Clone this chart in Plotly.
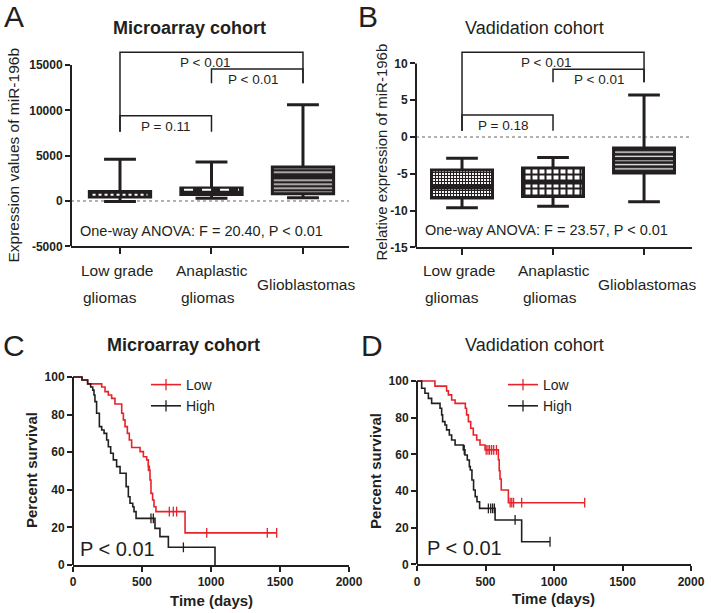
import plotly.graph_objects as go

W, H = 711, 613
FONT = "Liberation Sans, Arial, Helvetica, sans-serif"
DARK = "#231f20"
RED = "#e8222a"

# ------------------------------------------------------------------ data
CATEGORY_LINES = [["Low grade", "gliomas"], ["Anaplastic", "gliomas"], ["Glioblastomas"]]
CAT_POS = [0, 1, 2]

# Panel A (microarray cohort) box statistics
A_LOWER = [-50, 300, 350]
A_Q1 = [450, 700, 800]
A_MEDIAN = [680, 1230, 2700]
A_Q3 = [1050, 1420, 3750]
A_UPPER = [4600, 4300, 10600]
A_YTICKS = [-5000, 0, 5000, 10000, 15000]
A_PAIRS = [(0, 1), (0, 2), (1, 2)]
A_BRACKET_Y = [9400, 16400, 14560]
A_LEG_LEFT = [7640, 7640, 12980]
A_LEG_RIGHT = [7640, 12980, 12980]
A_P_LABELS = ["P = 0.11", "P < 0.01", "P < 0.01"]
A_ANOVA = "One-way ANOVA: F = 20.40, P < 0.01"

# Panel B (validation cohort) box statistics
B_LOWER = [-9.6, -9.4, -8.8]
B_Q1 = [-8.3, -8.1, -4.9]
B_MEDIAN = [-6.8, -6.1, -3.0]
B_Q3 = [-4.5, -4.2, -1.5]
B_UPPER = [-2.9, -2.8, 5.7]
B_YTICKS = [-15, -10, -5, 0, 5, 10]
B_PAIRS = [(0, 1), (0, 2), (1, 2)]
B_BRACKET_Y = [3.0, 11.5, 9.2]
B_LEG_LEFT = [0.86, 0.86, 7.43]
B_LEG_RIGHT = [0.86, 7.43, 7.43]
B_P_LABELS = ["P = 0.18", "P < 0.01", "P < 0.01"]
B_ANOVA = "One-way ANOVA: F = 23.57, P < 0.01"

# Panel C (microarray cohort) Kaplan-Meier
C_LOW_T = [0, 65, 106, 208, 232, 256, 280, 304, 353, 365, 377, 394, 408, 425, 486, 510,
           534, 546, 553, 558, 565, 577, 587, 601, 812, 1476]
C_LOW_S = [100, 98.4, 96.3, 94.7, 92.2, 90.4, 88.6, 85.6, 80.7, 77.2, 73.6, 70, 66.5, 62.5,
           60.3, 57.6, 55.9, 52.5, 50.5, 45.2, 38.1, 34.6, 31, 28.4, 17.1, 17.1]
C_LOW_CENS_T = [546, 698, 727, 751, 969, 1408, 1476]
C_LOW_CENS_S = [52.5, 28.4, 28.4, 28.4, 17.1, 17.1, 17.1]
C_HIGH_T = [0, 65, 106, 128, 143, 152, 159, 171, 191, 208, 225, 244, 256, 273, 292, 316,
            341, 385, 401, 413, 433, 442, 457, 594, 630, 691, 1029]
C_HIGH_S = [100, 98.4, 96.3, 94.7, 93, 90.4, 86.9, 80.7, 73.6, 71.8, 70, 66.5, 62.9, 59.4,
            55.9, 52.3, 48.8, 41.7, 36.3, 32.8, 31, 28.4, 24.8, 19.5, 15.1, 9.4, 0]
C_HIGH_CENS_T = [565, 582, 800]
C_HIGH_CENS_S = [24.8, 24.8, 9.4]

# Panel D (validation cohort) Kaplan-Meier
D_LOW_T = [0, 131, 216, 229, 253, 278, 353, 362, 375, 392, 411, 436, 460, 497, 594, 600,
           606, 615, 667, 1224]
D_LOW_S = [100, 97.2, 94.6, 92.4, 89.6, 87.8, 85.1, 81.5, 77.8, 74.2, 70.5, 67.8, 65.1,
           62.4, 57, 51, 46.5, 40.5, 33.6, 33.6]
D_LOW_CENS_T = [505, 518, 530, 545, 560, 580, 680, 692, 705, 764, 1224]
D_LOW_CENS_S = [62.4, 62.4, 62.4, 62.4, 62.4, 62.4, 33.6, 33.6, 33.6, 33.6, 33.6]
D_HIGH_T = [0, 34, 58, 83, 107, 168, 180, 187, 204, 216, 236, 253, 278, 338, 350, 367,
            382, 389, 401, 413, 425, 438, 457, 570, 764, 971]
D_HIGH_S = [100, 96, 93.3, 90.5, 87.8, 85.1, 81.5, 77.8, 76, 73.3, 70.5, 67.8, 65.1, 62.4,
            59.6, 56.9, 53.3, 51.4, 46, 40.5, 36.9, 34.1, 30.5, 24.2, 12.3, 12.3]
D_HIGH_CENS_T = [345, 521, 538, 552, 565, 716, 971]
D_HIGH_CENS_S = [62.4, 30.5, 30.5, 30.5, 30.5, 24.2, 12.3]

KM_XTICKS = [0, 500, 1000, 1500, 2000]
KM_YTICKS = [0, 20, 40, 60, 80, 100]

# ------------------------------------------------------------------ helpers
def px(x):
    return x / W


def py(y):
    return 1 - y / H


def xdom(a, b):
    return [a / W, b / W]


def ydom(top, bottom):
    return [1 - bottom / H, 1 - top / H]


fig = go.Figure()
annotations = []
shapes = []

BOX_W = 0.67


def box_panel(xa, ya, lower, q1, med, q3, upper, patterns, median_styles,
              pairs, bracket_y, leg_l, leg_r, p_labels, label_shift):
    heights = [b - a for a, b in zip(q1, q3)]
    fig.add_trace(go.Bar(
        x=CAT_POS, y=heights, base=q1, width=BOX_W, xaxis=xa, yaxis=ya,
        marker=dict(color=DARK, line=dict(width=0), pattern=patterns),
        showlegend=False, hoverinfo="skip"))
    fig.add_trace(go.Box(
        x=CAT_POS, q1=q1, median=med, q3=q3, lowerfence=lower, upperfence=upper,
        width=BOX_W, whiskerwidth=0.52, boxpoints=False, xaxis=xa, yaxis=ya,
        line=dict(color=DARK, width=3), fillcolor="rgba(0,0,0,0)",
        showlegend=False, hoverinfo="skip"))
    for i, st in enumerate(median_styles):
        if st is None:
            continue
        half = st.pop("half")
        fig.add_trace(go.Scatter(
            x=[CAT_POS[i] - half, CAT_POS[i] + half], y=[med[i], med[i]],
            mode="lines", line=st, xaxis=xa, yaxis=ya, showlegend=False,
            hoverinfo="skip"))
    for (i, j), h, l, r, lab, sh in zip(pairs, bracket_y, leg_l, leg_r, p_labels,
                                        label_shift):
        fig.add_trace(go.Scatter(
            x=[CAT_POS[i], CAT_POS[i], CAT_POS[j], CAT_POS[j]], y=[l, h, h, r],
            mode="lines", line=dict(color=DARK, width=1.5), xaxis=xa, yaxis=ya,
            showlegend=False, hoverinfo="skip", cliponaxis=False))
        annotations.append(dict(
            x=(CAT_POS[i] + CAT_POS[j]) / 2, y=h, xref=xa, yref=ya,
            text=lab, showarrow=False, xanchor="center", yanchor="top", yshift=-1,
            xshift=sh, font=dict(family=FONT, size=13.5, color=DARK)))


# Panel A
box_panel("x", "y", A_LOWER, A_Q1, A_MEDIAN, A_Q3, A_UPPER,
          dict(shape=["", "", "-"], fgcolor=[DARK, DARK, "white"],
               bgcolor=[DARK, DARK, DARK], size=4, solidity=0.3, fillmode="replace"),
          [dict(color="white", width=2, dash="dot", half=0.3),
           dict(color="white", width=2, dash="dash", half=0.3), None],
          A_PAIRS, A_BRACKET_Y, A_LEG_LEFT, A_LEG_RIGHT, A_P_LABELS, [0, -6, -4])

# Panel B
box_panel("x2", "y2", B_LOWER, B_Q1, B_MEDIAN, B_Q3, B_UPPER,
          dict(shape=["+", "+", "-"], fgcolor=[DARK, DARK, "white"],
               bgcolor=["white", "white", DARK], size=[3, 7, 4.2],
               solidity=[0.6, 0.5, 0.3], fillmode="replace"),
          [dict(color=DARK, width=5, half=BOX_W / 2),
           dict(color=DARK, width=5, half=BOX_W / 2), None],
          B_PAIRS, B_BRACKET_Y, B_LEG_LEFT, B_LEG_RIGHT, B_P_LABELS, [-5, -7, 0])


def km_panel(xa, ya, legend, series):
    for name, color, t, s, ct, cs in series:
        fig.add_trace(go.Scatter(
            x=t, y=s, mode="lines", line=dict(color=color, width=1.6, shape="hv"),
            xaxis=xa, yaxis=ya, showlegend=False, hoverinfo="skip"))
        fig.add_trace(go.Scatter(
            x=ct, y=cs, mode="markers", xaxis=xa, yaxis=ya, showlegend=False,
            marker=dict(symbol="line-ns-open", size=7, color=color,
                        line=dict(color=color, width=1.3)),
            hoverinfo="skip", cliponaxis=False))
        fig.add_trace(go.Scatter(
            x=[None], y=[None], mode="lines+markers", name=name, legend=legend,
            xaxis=xa, yaxis=ya, line=dict(color=color, width=1.6),
            marker=dict(symbol="line-ns-open", size=8, color=color,
                        line=dict(color=color, width=1.3))))


km_panel("x3", "y3", "legend", [
    ("Low", RED, C_LOW_T, C_LOW_S, C_LOW_CENS_T, C_LOW_CENS_S),
    ("High", DARK, C_HIGH_T, C_HIGH_S, C_HIGH_CENS_T, C_HIGH_CENS_S)])
km_panel("x4", "y4", "legend2", [
    ("Low", RED, D_LOW_T, D_LOW_S, D_LOW_CENS_T, D_LOW_CENS_S),
    ("High", DARK, D_HIGH_T, D_HIGH_S, D_HIGH_CENS_T, D_HIGH_CENS_S)])

# ------------------------------------------------------------------ axes
tickfont = dict(family=FONT, size=12, color=DARK, weight="bold")
common = dict(showgrid=False, zeroline=False, ticks="outside", tickwidth=2,
              tickcolor=DARK, linecolor=DARK, linewidth=2, tickfont=tickfont,
              fixedrange=True, automargin=False)

layout_axes = dict(
    xaxis=dict(common, domain=xdom(71, 349), range=[-0.5355, 2.503], tickvals=CAT_POS,
               showticklabels=False, showline=True, ticklen=6, anchor="y"),
    yaxis=dict(common, domain=ydom(42.3, 246.3), range=[-5000, 17500], tickvals=A_YTICKS,
               ticktext=[str(v) for v in A_YTICKS], showline=False, ticklen=5, anchor="x"),
    xaxis2=dict(common, domain=xdom(416, 692), range=[-0.5055, 2.527], tickvals=CAT_POS,
                showticklabels=False, showline=True, ticklen=6, anchor="y2"),
    yaxis2=dict(common, domain=ydom(45, 247.4), range=[-15, 12.5], tickvals=B_YTICKS,
                ticktext=[str(v) for v in B_YTICKS], showline=False, ticklen=5, anchor="x2"),
    xaxis3=dict(common, domain=xdom(73, 349), range=[0, 2000], tickvals=KM_XTICKS,
                showline=True, ticklen=5, anchor="y3"),
    yaxis3=dict(common, domain=ydom(373.2, 565), range=[0, 102], tickvals=KM_YTICKS,
                showline=False, ticklen=5, anchor="x3"),
    xaxis4=dict(common, domain=xdom(417, 691), range=[0, 2000], tickvals=KM_XTICKS,
                showline=True, ticklen=5, anchor="y4"),
    yaxis4=dict(common, domain=ydom(377.3, 564.3), range=[0, 102], tickvals=KM_YTICKS,
                showline=False, ticklen=5, anchor="x4"),
)

# y axis lines (only up to the top tick) and dotted zero lines
for xa, ya, lo, hi in [("x", "y", -5000, 15000), ("x2", "y2", -15, 10),
                       ("x3", "y3", 0, 100), ("x4", "y4", 0, 100)]:
    shapes.append(dict(type="line", xref=xa + " domain", yref=ya, x0=0, x1=0,
                       y0=lo, y1=hi, line=dict(color=DARK, width=2)))
for xa, ya in [("x", "y"), ("x2", "y2")]:
    shapes.append(dict(type="line", xref=xa + " domain", yref=ya, x0=0, x1=1,
                       y0=0, y1=0, layer="below",
                       line=dict(color="#666666", width=1, dash="dot")))

# ------------------------------------------------------------------ text


def ann(text, x, y, size, bold=False, angle=0, **kw):
    d = dict(text=f"<b>{text}</b>" if bold else text, x=px(x), y=py(y), xref="paper",
             yref="paper", showarrow=False, textangle=angle, xanchor="center",
             yanchor="middle", font=dict(family=FONT, size=size, color=DARK))
    d.update(kw)
    annotations.append(d)


# panel letters
ann("A", 14, 17, 30)
ann("B", 368, 16, 30)
ann("C", 14, 345, 30)
ann("D", 372, 345, 30)
# titles
ann("Microarray cohort", 190, 28, 18, bold=True)
ann("Vadidation cohort", 534.5, 28, 18)
ann("Microarray cohort", 183.5, 345, 18, bold=True)
ann("Vadidation cohort", 534, 345, 18)
# y-axis titles
ann("Expression values of miR-196b", 12.5, 155, 15.5, angle=-90)
ann("Relative expression of miR-196b", 381.5, 152, 15, angle=-90)
ann("Percent survival", 31, 470, 15, bold=True, angle=-90)
ann("Percent survival", 375, 471, 15, bold=True, angle=-90)
# x-axis titles
ann("Time (days)", 211, 600, 15, bold=True)
ann("Time (days)", 553, 598, 15, bold=True)
# p-values of survival
ann("P < 0.01", 117.5, 549, 20)
ann("P < 0.01", 464.5, 548, 20)
# ANOVA
ann(A_ANOVA, 201, 231, 14.5)
ann(B_ANOVA, 546, 230, 14.5)

# category labels
LINE1_SHIFT = [-3, 1, 3]
LINE2_SHIFT = [-39, -32]
for xa in ["x", "x2"]:
    for i, lines in enumerate(CATEGORY_LINES):
        if len(lines) == 1:
            annotations.append(dict(text=lines[0], x=CAT_POS[i], xref=xa, y=py(284),
                                    yref="paper", showarrow=False, xanchor="center",
                                    yanchor="middle", xshift=LINE1_SHIFT[i],
                                    font=dict(family=FONT, size=15.5, color=DARK)))
        else:
            annotations.append(dict(text=lines[0], x=CAT_POS[i], xref=xa, y=py(270),
                                    yref="paper", showarrow=False, xanchor="center",
                                    yanchor="middle", xshift=LINE1_SHIFT[i],
                                    font=dict(family=FONT, size=15.5, color=DARK)))
            annotations.append(dict(text=lines[1], x=CAT_POS[i], xref=xa, y=py(297),
                                    yref="paper", showarrow=False, xanchor="left",
                                    yanchor="middle", xshift=LINE2_SHIFT[i],
                                    font=dict(family=FONT, size=15.5, color=DARK)))

legend_common = dict(xanchor="left", yanchor="top", bgcolor="rgba(0,0,0,0)",
                     font=dict(family=FONT, size=14, color=DARK), tracegroupgap=0)

fig.update_layout(
    width=W, height=H, autosize=False,
    margin=dict(l=0, r=0, t=0, b=0, autoexpand=False),
    paper_bgcolor="white", plot_bgcolor="rgba(0,0,0,0)",
    barmode="overlay",
    annotations=annotations, shapes=shapes,
    legend=dict(legend_common, x=px(146), y=py(369)),
    legend2=dict(legend_common, x=px(503), y=py(369)),
    **layout_axes,
)

fig.write_html("out.html", config={"displayModeBar": False},
               post_script="document.body.style.margin='0';"
                           "document.body.style.overflow='hidden';")
